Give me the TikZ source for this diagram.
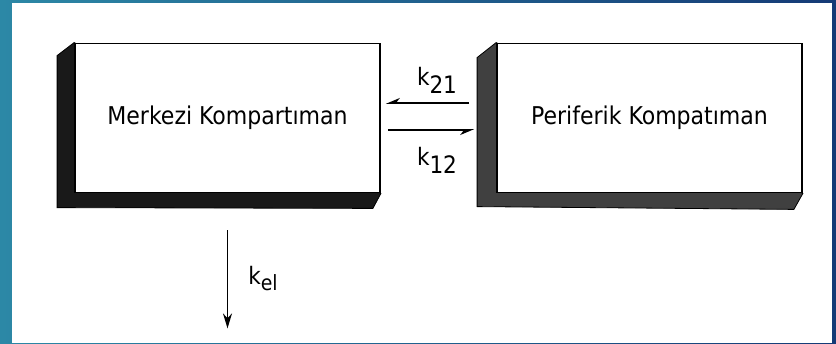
\documentclass[tikz,border=0pt]{standalone}
\usepackage{fontspec}
\setmainfont{DejaVu Sans Condensed}
\usetikzlibrary{arrows.meta,calc}
\definecolor{bgleft}{HTML}{2C88A6}
\definecolor{bgright}{HTML}{153A76}
\tikzset{
  compbox/.style={draw=black, line width=1.8pt, fill=white, minimum width=305pt, minimum height=149pt, inner sep=0pt, font=\fontsize{24.5}{26}\selectfont},
  shade3d/.style={fill=black!90, draw=black, line width=0.8pt},
  shade3db/.style={fill=black!75, draw=black, line width=0.8pt},
  flow/.style={line width=1.6pt},
  klabel/.style={inner sep=0pt, font=\fontsize{24}{26}\selectfont}
}
\begin{document}
\begin{tikzpicture}[x=1pt,y=-1pt]
\useasboundingbox (0,0) rectangle (836,343);
\shade[left color=bgleft, right color=bgright] (0,0) rectangle (836,343);
\fill[white] (12,3) rectangle (832,343);
% boxes
\node[compbox] (merk) at (227.5,118) {Merkezi Kompartıman};
\node[compbox] (peri) at (649.5,118) {Periferik Kompatıman};
% 3d shadows
\fill[shade3d] (merk.north west) -- ++(-17,13) -- ++(0,152) -- ([xshift=-8pt,yshift=-15pt]merk.south east) -- (merk.south east) -- cycle;
\fill[shade3db] (peri.north west) -- ++(-19,15) -- ++(0,149) -- ([xshift=-9pt,yshift=-16pt]peri.south east) -- (peri.south east) -- cycle;
% redraw front boxes on top
\node[compbox] at (merk) {Merkezi Kompartıman};
\node[compbox] at (peri) {Periferik Kompatıman};
% exchange arrows
\coordinate (a1s) at ($(peri.west)+(-27,-15)$);
\coordinate (a1e) at ($(merk.east)+(5,-15)$);
\coordinate (a2s) at ($(merk.east)+(7,12)$);
\coordinate (a2e) at ($(peri.west)+(-22,12)$);
\draw[flow, -{Stealth[harpoon,swap,length=12pt,width=10pt]}] (a1s) -- (a1e);
\draw[flow, -{Stealth[harpoon,swap,length=12pt,width=10pt]}] (a2s) -- (a2e);
\node[klabel] (k21) at (437,80) {k\raisebox{-8pt}{21}};
\node[klabel] (k12) at (437,160) {k\raisebox{-8pt}{12}};
% elimination
\coordinate (els) at ($(merk.south)+(0,37)$);
\coordinate (ele) at ($(merk.south)+(0,135)$);
\draw[flow, -{Stealth[length=15pt,width=9pt]}] (els) -- (ele);
\node[klabel] (kel) at (263,279) {k\raisebox{-6pt}{\fontsize{21}{22}\selectfont el}};
\end{tikzpicture}
\end{document}
